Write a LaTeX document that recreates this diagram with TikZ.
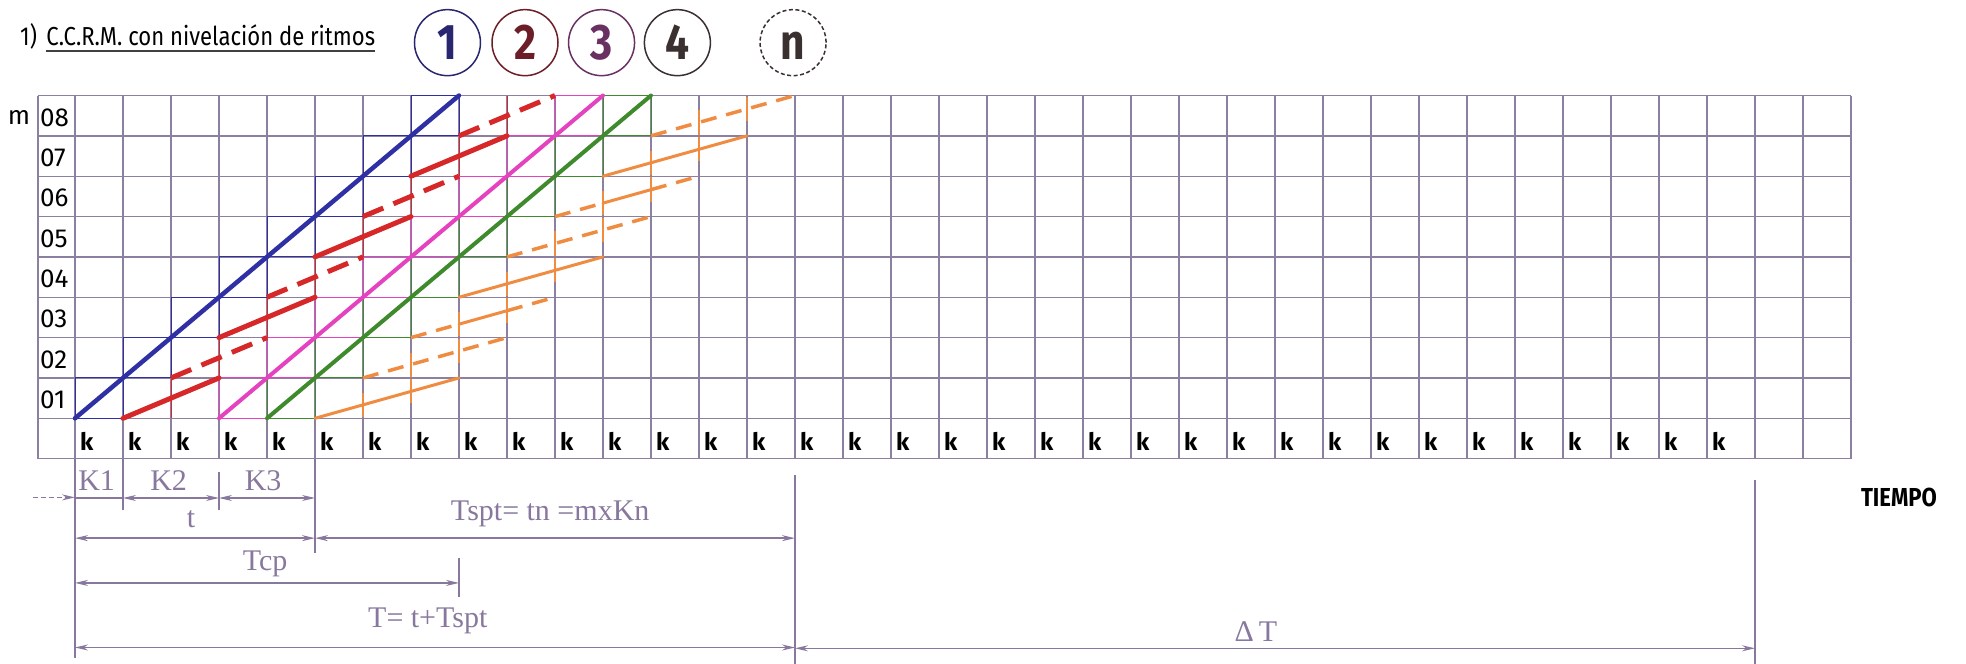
\documentclass[tikz,border=0pt]{standalone}
\usepackage{fontspec}
\setmainfont{Liberation Serif}
\setsansfont{Fira Sans}
\newfontfamily\narrowsans[FakeStretch=0.85]{Fira Sans}
\usetikzlibrary{arrows.meta}

\definecolor{gridgray}{RGB}{140,128,160}
\definecolor{dimgray}{RGB}{136,120,158}
\definecolor{crewone}{RGB}{48,48,165}
\definecolor{crewtwo}{RGB}{214,40,40}
\definecolor{crewthree}{RGB}{228,66,190}
\definecolor{crewfour}{RGB}{62,138,44}
\definecolor{crewn}{RGB}{240,140,66}
\definecolor{circone}{RGB}{40,38,110}
\definecolor{circtwo}{RGB}{108,30,40}
\definecolor{circthree}{RGB}{105,48,98}
\definecolor{circfour}{RGB}{58,48,48}

\begin{document}
\begin{tikzpicture}[x=48pt,y=40.35pt,>={Stealth[length=13pt,width=6pt]},
	gridline/.style={draw=gridgray,line width=1.4pt},
	cellbox/.style={line width=1pt},
	dimline/.style={draw=dimgray,line width=1.4pt},
	dimarrow/.style={dimline,<->},
	dimlabel/.style={text=dimgray,inner sep=0pt,font=\fontsize{30}{30}\selectfont},
	rowlabel/.style={inner sep=0pt,font=\sffamily\fontsize{26}{26}\selectfont},
	klabel/.style={inner sep=0pt,anchor=base west,font=\sffamily\bfseries\fontsize{24}{24}\selectfont},
	crewcircle/.style={circle,draw,line width=1.5pt,minimum size=66pt,inner sep=0pt,font=\narrowsans\bfseries\fontsize{50}{50}\selectfont}]
	\useasboundingbox (-1.5625,-6.089) rectangle (39.396,10.367);

	\node[anchor=base west,inner sep=0pt,font=\narrowsans\fontsize{26}{26}\selectfont] (num) at (-1.146,9.227) {1)};
	\node[anchor=base west,inner sep=0pt,font=\narrowsans\fontsize{26}{26}\selectfont] (title) at (-0.6,9.227) {C.C.R.M. con nivelación de ritmos};
	\draw[line width=2.5pt,black!75] ([yshift=-5pt]title.base west) -- ([yshift=-5pt]title.base east);

	\node[crewcircle,draw=circone,text=circone] (c1) at (7.76,9.31) {1};
	\node[crewcircle,draw=circtwo,text=circtwo] (c2) at (9.375,9.31) {2};
	\node[crewcircle,draw=circthree,text=circthree] (c3) at (10.97,9.31) {3};
	\node[crewcircle,draw=circfour,text=circfour] (c4) at (12.55,9.31) {4};
	\node[crewcircle,draw=circfour,text=circfour,dash pattern=on 4pt off 2.5pt] (cn) at (14.96,9.31) {\vphantom{1}n};

	\foreach \i in {0,...,37}
		\draw[gridline] (\i,-1) -- (\i,8);
	\foreach \j in {-1,...,8}
		\draw[gridline] (-0.771,\j) -- (37,\j);
	\draw[gridline] (-0.771,-1) -- (-0.771,8);

	\node[rowlabel,anchor=base west] (m) at (-1.40,7.27) {m};
	\foreach \j in {1,...,8}
		\node[rowlabel,anchor=west] (row\j) at (-0.73,\j-0.545) {0\j};
	\foreach \i in {0,...,34}
		\node[klabel] (k\i) at (\i+0.1,-0.81) {k};

	\foreach \r in {0,...,7} {
		\draw[cellbox,crewone] (\r,\r) rectangle (\r+1,\r+1);
		\draw[cellbox,crewthree] (\r+3,\r) rectangle (\r+4,\r+1);
		\draw[cellbox,crewfour] (\r+4,\r) rectangle (\r+5,\r+1);
		\draw[cellbox,crewtwo] (\r+2,\r) -- (\r+2,\r+1);
		\draw[crewn,line width=1.2pt] (\r+6,\r+0.03) -- (\r+6,\r+0.63);
		\draw[crewn,line width=1.2pt] (\r+7,\r+0.37) -- (\r+7,\r+0.97);
	}

	\draw[crewone,line width=4.5pt,line cap=round] (0,0) -- (8,8);
	\draw[crewthree,line width=4pt,line cap=round] (3,0) -- (11,8);
	\draw[crewfour,line width=4pt,line cap=round] (4,0) -- (12,8);
	\foreach \r in {0,2,4,6}
		\draw[crewtwo,line width=5pt,line cap=round] (\r+1,\r) -- (\r+3,\r+1);
	\foreach \r in {1,3,5,7}
		\draw[crewtwo,line width=5pt,dash pattern=on 22pt off 11pt] (\r+1,\r) -- (\r+3,\r+1);
	\foreach \r in {0,3,6}
		\draw[crewn,line width=3pt,line cap=round] (\r+5,\r) -- (\r+8,\r+1);
	\foreach \r in {1,4,7}
		\draw[crewn,line width=3.5pt,dash pattern=on 16pt off 10pt] (\r+5,\r) -- (\r+8,\r+1);
	\foreach \r in {2,5} {
		\draw[crewn,line width=3.5pt,dash pattern=on 16pt off 10pt] (\r+5,\r) -- (\r+6,\r+1/3);
		\draw[crewn,line width=3pt,line cap=round] (\r+6,\r+1/3) -- (\r+7,\r+2/3);
		\draw[crewn,line width=3.5pt,dash pattern=on 16pt off 10pt] (\r+7,\r+2/3) -- (\r+8,\r+1);
	}

	\draw[dimline] (0,-1) -- (0,-5.95);
	\draw[dimline] (1,-1) -- (1,-2.28);
	\draw[dimline] (3,-1.33) -- (3,-2.28);
	\draw[dimline] (5,-1) -- (5,-3.34);
	\draw[dimline] (8,-3.46) -- (8,-4.43);
	\draw[dimline] (15,-1.41) -- (15,-6.089);
	\draw[dimline] (35,-1.53) -- (35,-6.089);

	\draw[dimline,dash pattern=on 5pt off 3pt,->] (-0.875,-1.96) -- (0,-1.96);
	\draw[dimline] (0,-1.975) -- (1,-1.975);
	\draw[dimarrow] (1,-1.975) -- (3,-1.975);
	\draw[dimarrow] (3,-1.975) -- (5,-1.975);
	\draw[dimarrow] (0,-2.97) -- (5,-2.97);
	\draw[dimarrow] (5,-2.97) -- (15,-2.97);
	\draw[dimarrow] (0,-4.08) -- (8,-4.08);
	\draw[dimarrow] (0,-5.68) -- (15,-5.68);
	\draw[dimarrow] (15,-5.7) -- (35,-5.7);

	\node[dimlabel] (kone) at (0.45,-1.55) {K1};
	\node[dimlabel] (ktwo) at (1.95,-1.55) {K2};
	\node[dimlabel] (kthree) at (3.92,-1.55) {K3};
	\node[dimlabel] (tlabel) at (2.42,-2.49) {t};
	\node[dimlabel] (tspt) at (9.9,-2.37) {Tspt= tn =mxKn};
	\node[dimlabel] (tcp) at (3.96,-3.6) {Tcp};
	\node[dimlabel] (total) at (7.35,-5.01) {T= t+Tspt};
	\node[dimlabel] (delta) at (24.6,-5.28) {Δ\,T};
	\node[inner sep=0pt,font=\narrowsans\bfseries\fontsize{26}{26}\selectfont] (tiempo) at (38.0,-1.963) {TIEMPO};
\end{tikzpicture}
\end{document}
